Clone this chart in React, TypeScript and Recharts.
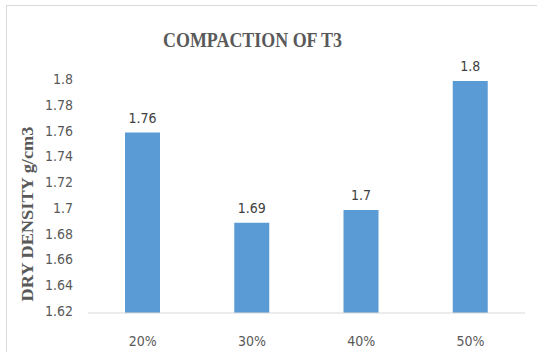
import { BarChart, Bar, XAxis, YAxis, LabelList } from "recharts";

const categories = ["20%", "30%", "40%", "50%"];
const dryDensity = [1.76, 1.69, 1.7, 1.8];
const yTicks = [1.62, 1.64, 1.66, 1.68, 1.7, 1.72, 1.74, 1.76, 1.78, 1.8];

const data = categories.map((name, i) => ({ name, density: dryDensity[i] }));

const TICK_FONT = "'Liberation Sans Narrow', 'DejaVu Sans Condensed', sans-serif";
const TITLE_FONT = "'Liberation Serif', 'Times New Roman', serif";

export default function App() {
  return (
    <div
      style={{
        position: "absolute",
        left: 0,
        top: 0,
        width: 537,
        height: 352,
        overflow: "hidden",
        background: "#fff",
      }}
    >
      {/* chart area frame */}
      <div
        style={{
          position: "absolute",
          left: 6,
          top: 5,
          width: 560,
          height: 380,
          border: "1px solid #d9d9d9",
        }}
      />
      <BarChart
        width={537}
        height={352}
        data={data}
        margin={{ top: 81, right: 12, bottom: 9, left: 0 }}
        style={{ position: "absolute", left: 0, top: 0 }}
      >
        <XAxis
          dataKey="name"
          height={30}
          tickLine={false}
          axisLine={{ stroke: "#d9d9d9" }}
          tickMargin={17}
          tick={{ fill: "#595959", fontSize: 14, fontFamily: TICK_FONT }}
        />
        <YAxis
          width={88}
          domain={[1.62, 1.8]}
          ticks={yTicks}
          interval={0}
          axisLine={false}
          tickLine={false}
          tickMargin={9}
          tick={{ fill: "#595959", fontSize: 14, fontFamily: TICK_FONT, dy: -2 }}
        />
        <Bar dataKey="density" fill="#5b9bd5" barSize={35} isAnimationActive={false}>
          <LabelList
            dataKey="density"
            position="top"
            offset={10}
            fill="#404040"
            fontSize={14}
            fontFamily={TICK_FONT}
          />
        </Bar>
      </BarChart>
      <svg
        width={537}
        height={352}
        style={{ position: "absolute", left: 0, top: 0, pointerEvents: "none" }}
      >
        <text
          x={252.5}
          y={47}
          textAnchor="middle"
          fontFamily={TITLE_FONT}
          fontWeight="bold"
          fontSize={21}
          fill="#595959"
          textLength={179}
          lengthAdjust="spacingAndGlyphs"
        >
          COMPACTION OF T3
        </text>
        <text
          x={0}
          y={0}
          transform="translate(33, 214) rotate(-90)"
          textAnchor="middle"
          fontFamily={TITLE_FONT}
          fontWeight="bold"
          fontSize={17}
          fill="#595959"
          textLength={175}
          lengthAdjust="spacingAndGlyphs"
        >
          DRY DENSITY g/cm3
        </text>
      </svg>
    </div>
  );
}
